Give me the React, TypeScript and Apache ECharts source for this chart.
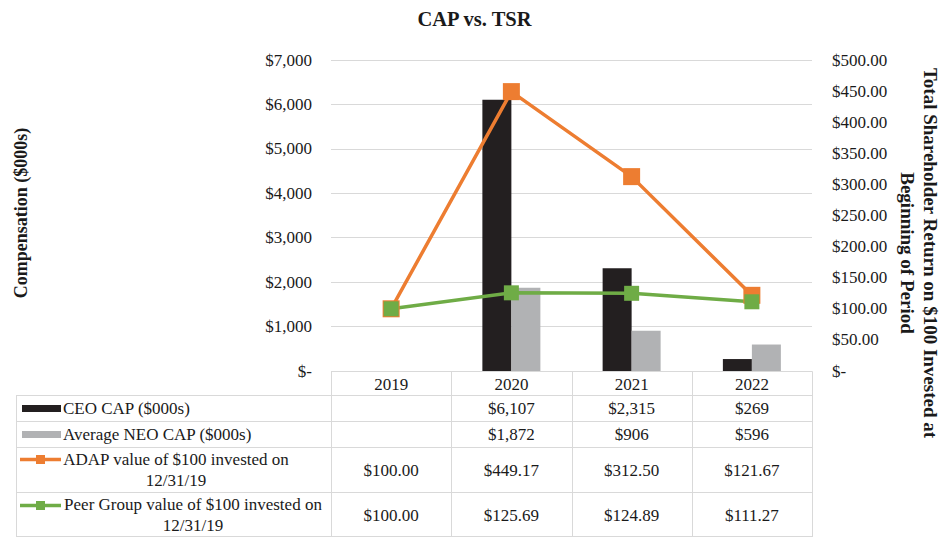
import React, { useEffect, useRef } from "react";
import * as echarts from "echarts";

const years = ["2019", "2020", "2021", "2022"];
const ceoCap: (number | null)[] = [null, 6107, 2315, 269];
const neoCap: (number | null)[] = [null, 1872, 906, 596];
const adapTsr = [100.0, 449.17, 312.5, 121.67];
const peerTsr = [100.0, 125.69, 124.89, 111.27];

const seriesNames = [
  "CEO CAP ($000s)",
  "Average NEO CAP ($000s)",
  "ADAP value of $100 invested on\n12/31/19",
  "Peer Group value of $100 invested on\n12/31/19",
];

const leftMax = 7000;
const leftInterval = 1000;
const rightMax = 500;
const rightInterval = 50;

const FONT = "'Liberation Serif', 'Times New Roman', serif";
const C_CEO = "#231f20";
const C_NEO = "#b1b2b4";
const C_ADAP = "#ed7d31";
const C_PEER = "#6fac46";
const C_GRID = "#d9d9d9";
const C_TEXT = "#1a1a1a";

const W = 942;
const H = 537;
const GL = 331;
const GR = 812;
const GT = 60;
const GB = 371;

const fmtCap = (v: number | null) => (v == null ? "" : "$" + v.toLocaleString("en-US"));
const fmtTsr = (v: number | null) => (v == null ? "" : "$" + v.toFixed(2));

export default function App() {
  const ref = useRef<HTMLDivElement>(null);
  useEffect(() => {
    if (!ref.current) return;
    const chart = echarts.init(ref.current, null, { renderer: "svg" });
    const colW = (GR - GL) / years.length;
    const tableLeft = 16;
    const rowLines = [395.5, 421.5, 447.5, 492.5, 536.5];
    const headerTop = 371.5;
    const g: any[] = [];
    const line = (x1: number, y1: number, x2: number, y2: number) => ({
      type: "line",
      shape: { x1, y1, x2, y2 },
      style: { stroke: C_GRID, lineWidth: 1 },
      silent: true,
    });
    // horizontal lines
    g.push(line(GL, headerTop, GR + 0.5, headerTop));
    rowLines.forEach((y) => g.push(line(tableLeft, y, GR + 0.5, y)));
    // vertical lines
    g.push(line(tableLeft + 0.5, rowLines[0], tableLeft + 0.5, H));
    for (let i = 0; i <= years.length; i++) {
      const x = Math.round(GL + i * colW) + 0.5;
      g.push(line(x, headerTop, x, H));
    }
    const txt = (text: string, x: number, y: number, align: string, extra: any = {}) => ({
      type: "text",
      x,
      y,
      silent: true,
      style: {
        text,
        fill: C_TEXT,
        font: `17px ${FONT}`,
        align,
        verticalAlign: "middle",
        ...extra,
      },
    });
    // header
    years.forEach((yr, i) => g.push(txt(yr, GL + colW * (i + 0.5), 384, "center")));
    const rowCenters = [408.5, 434.5, 470, 515];
    const rowData = [ceoCap.map(fmtCap), neoCap.map(fmtCap), adapTsr.map(fmtTsr), peerTsr.map(fmtTsr)];
    rowData.forEach((row, r) =>
      row.forEach((v, i) => {
        if (v) g.push(txt(v, GL + colW * (i + 0.5), rowCenters[r], "center"));
      })
    );
    // row labels
    g.push(txt(seriesNames[0], 63, rowCenters[0], "left"));
    g.push(txt(seriesNames[1], 63, rowCenters[1], "left"));
    g.push(txt(seriesNames[2], 176, rowCenters[2], "center", { lineHeight: 21 }));
    g.push(txt(seriesNames[3], 193, rowCenters[3], "center", { lineHeight: 21 }));
    // legend keys
    g.push({ type: "rect", shape: { x: 22, y: rowCenters[0] - 3.5, width: 39, height: 7 }, style: { fill: C_CEO }, silent: true });
    g.push({ type: "rect", shape: { x: 22, y: rowCenters[1] - 3.5, width: 39, height: 7 }, style: { fill: C_NEO }, silent: true });
    const lineKey = (y: number, color: string) => {
      g.push({ type: "line", shape: { x1: 20, y1: y, x2: 61, y2: y }, style: { stroke: color, lineWidth: 3.5 }, silent: true });
      g.push({ type: "rect", shape: { x: 36, y: y - 4.5, width: 9, height: 9 }, style: { fill: color }, silent: true });
    };
    lineKey(459.5, C_ADAP);
    lineKey(505.5, C_PEER);
    // axis titles
    g.push({
      type: "text",
      x: 21,
      y: 213,
      rotation: Math.PI / 2,
      silent: true,
      style: { text: "Compensation ($000s)", fill: C_TEXT, font: `bold 18px ${FONT}`, align: "center", verticalAlign: "middle" },
    });
    g.push({
      type: "text",
      x: 919,
      y: 253,
      rotation: -Math.PI / 2,
      silent: true,
      style: {
        text: "Total Shareholder Return on $100 Invested at\nBeginning of Period",
        fill: C_TEXT,
        font: `bold 19px ${FONT}`,
        align: "center",
        verticalAlign: "middle",
        lineHeight: 23,
      },
    });
    // chart title
    g.push({
      type: "text",
      x: 474.5,
      y: 19,
      silent: true,
      style: { text: "CAP vs. TSR", fill: C_TEXT, font: `bold 20.5px ${FONT}`, align: "center", verticalAlign: "middle" },
    });

    chart.setOption({
      animation: false,
      backgroundColor: "#ffffff",
      grid: { left: GL, right: W - GR, top: GT, bottom: H - GB, containLabel: false },
      xAxis: {
        type: "category",
        data: years,
        axisLine: { show: false },
        axisTick: { show: false },
        axisLabel: { show: false },
      },
      yAxis: [
        {
          type: "value",
          min: 0,
          max: leftMax,
          interval: leftInterval,
          axisLine: { show: false },
          axisTick: { show: false },
          splitLine: { lineStyle: { color: C_GRID, width: 1 } },
          axisLabel: {
            margin: 19,
            fontFamily: FONT,
            fontSize: 17,
            color: C_TEXT,
            formatter: (v: number) => (v === 0 ? "$-" : "$" + v.toLocaleString("en-US")),
          },
        },
        {
          type: "value",
          min: 0,
          max: rightMax,
          interval: rightInterval,
          position: "right",
          axisLine: { show: false },
          axisTick: { show: false },
          splitLine: { show: false },
          axisLabel: {
            margin: 20,
            fontFamily: FONT,
            fontSize: 17,
            color: C_TEXT,
            formatter: (v: number) => (v === 0 ? "$-" : "$" + v.toFixed(2)),
          },
        },
      ],
      series: [
        { name: seriesNames[0], type: "bar", data: ceoCap, barWidth: 29, barGap: "0%", itemStyle: { color: C_CEO } },
        { name: seriesNames[1], type: "bar", data: neoCap, barWidth: 29, barGap: "0%", itemStyle: { color: C_NEO } },
        {
          name: seriesNames[2],
          type: "line",
          yAxisIndex: 1,
          data: adapTsr,
          symbol: "rect",
          symbolSize: 17,
          lineStyle: { color: C_ADAP, width: 3.5 },
          itemStyle: { color: C_ADAP },
        },
        {
          name: seriesNames[3],
          type: "line",
          yAxisIndex: 1,
          data: peerTsr,
          symbol: "rect",
          symbolSize: 15,
          lineStyle: { color: C_PEER, width: 3.5 },
          itemStyle: { color: C_PEER },
        },
      ],
      graphic: g,
    });
    return () => chart.dispose();
  }, []);
  return <div ref={ref} style={{ position: "fixed", left: 0, top: 0, width: W, height: H }} />;
}
